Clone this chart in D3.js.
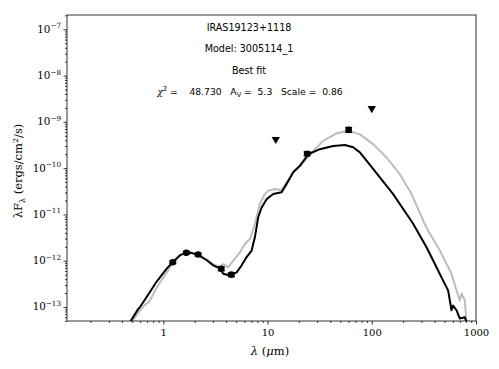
<!DOCTYPE html>
<html>
<head>
<meta charset="utf-8">
<script src="https://cdn.jsdelivr.net/npm/d3@7"></script>
<style>
  html, body { margin: 0; padding: 0; background: #fff; }
  svg { display: block; }
</style>
</head>
<body>
<svg id="chart" width="499" height="369"></svg>
<script>
// ---- data ----
// best-fit model (black): wavelength (micron), log10 lambda F_lambda
const bestWave = [0.46, 0.49, 0.576, 0.598, 0.718, 0.864, 1.078, 1.23, 1.446, 1.65, 1.84, 2.14, 2.61, 3.02, 3.50, 3.76, 4.36, 5.05, 5.65, 6.30, 7.04, 7.57, 8.14, 8.78, 9.80, 11.34, 13.65, 15.25, 17.64, 20.45, 24.6, 31.8, 42.7, 55.2, 66.3, 76.9, 89.1, 119.6, 160.4, 215.7, 249.5, 335.3, 418, 483.7, 540, 582, 603, 650, 699, 781, 811, 860];
const bestLogF = [-13.45, -13.29, -13.04, -13.00, -12.73, -12.45, -12.17, -12.03, -11.88, -11.83, -11.83, -11.87, -11.99, -12.10, -12.17, -12.28, -12.32, -12.25, -12.10, -11.92, -11.78, -11.49, -11.06, -10.85, -10.67, -10.56, -10.52, -10.34, -10.09, -9.95, -9.70, -9.59, -9.52, -9.50, -9.55, -9.66, -9.84, -10.20, -10.56, -10.99, -11.20, -11.71, -12.14, -12.43, -12.64, -13.07, -12.97, -13.07, -13.25, -13.22, -13.33, -13.55];

// comparison model (grey)
const greyWave = [0.49, 0.52, 0.60, 0.66, 0.72, 0.78, 0.84, 0.93, 1.117, 1.239, 1.446, 1.65, 1.84, 2.15, 2.61, 3.02, 3.50, 3.76, 4.20, 4.69, 5.44, 6.07, 6.78, 7.57, 8.46, 9.44, 10.15, 11.78, 13.65, 15.25, 17.64, 22.0, 27.4, 34.2, 46.0, 59.4, 76.9, 103.1, 138.7, 186, 240.8, 311, 347, 450, 582, 650, 699, 726, 781, 811, 850];
const greyLogF = [-13.40, -13.26, -13.07, -12.96, -12.90, -12.78, -12.63, -12.47, -12.20, -12.04, -11.89, -11.82, -11.82, -11.87, -11.97, -12.08, -12.13, -12.07, -12.14, -12.00, -11.82, -11.64, -11.53, -11.20, -10.77, -10.56, -10.49, -10.45, -10.47, -10.31, -10.09, -9.88, -9.63, -9.41, -9.25, -9.19, -9.27, -9.48, -9.77, -10.13, -10.56, -11.13, -11.35, -11.78, -12.28, -12.64, -12.86, -12.71, -12.86, -13.33, -13.65];

// photometry (detections)
const obsWave = [1.235, 1.662, 2.159, 3.6, 4.5, 24, 60];
const obsFlux = [9.3e-13, 1.48e-12, 1.36e-12, 6.7e-13, 5.0e-13, 2.05e-10, 6.7e-10];
const obsErrDex = [0.03, 0.03, 0.03, 0.04, 0.04, 0.04, 0.05];

// upper limits
const limWave = [12, 100];
const limFlux = [4.2e-10, 1.95e-9];

// axes ticks
const xTickVals = [1, 10, 100, 1000];
const xTickLabels = ["1", "10", "100", "1000"];
const yTickExps = [-13, -12, -11, -10, -9, -8, -7];

// annotation text
const titleLines = ["IRAS19123+1118", "Model: 3005114_1", "Best fit"];
const fitStats = { chi2: "48.730", av: "5.3", scale: "0.86" };

// ---- layout ----
const L = 67, R = 476, T = 15, B = 321;
const svg = d3.select("#chart");

const x = d3.scaleLog().domain([0.1192, 1000]).range([L, R]);
const y = d3.scaleLog().domain([Math.pow(10, -13.3025), Math.pow(10, -6.691)]).range([B, T]);

svg.append("defs").append("clipPath").attr("id", "clip")
  .append("rect").attr("x", L).attr("y", T).attr("width", R - L).attr("height", B - T);

const plot = svg.append("g").attr("clip-path", "url(#clip)");

const line = d3.line()
  .x(d => x(d[0]))
  .y(d => y(Math.pow(10, d[1])));

plot.append("path")
  .datum(greyWave.map((w, i) => [w, greyLogF[i]]))
  .attr("d", line)
  .attr("fill", "none")
  .attr("stroke", "#bdbdbd")
  .attr("stroke-width", 2)
  .attr("stroke-linejoin", "round");

plot.append("path")
  .datum(bestWave.map((w, i) => [w, bestLogF[i]]))
  .attr("d", line)
  .attr("fill", "none")
  .attr("stroke", "#000")
  .attr("stroke-width", 2)
  .attr("stroke-linejoin", "round");

// error bars + points
const obs = obsWave.map((w, i) => ({ w, f: obsFlux[i], e: obsErrDex[i] }));
const eb = plot.append("g");
obs.forEach(d => {
  const cx = x(d.w);
  const y1 = y(d.f * Math.pow(10, d.e));
  const y0 = y(d.f / Math.pow(10, d.e));
  eb.append("line").attr("x1", cx).attr("x2", cx).attr("y1", y1).attr("y2", y0)
    .attr("stroke", "#000").attr("stroke-width", 1.5);
  [y0, y1].forEach(yy => {
    eb.append("line").attr("x1", cx - 3.5).attr("x2", cx + 3.5).attr("y1", yy).attr("y2", yy)
      .attr("stroke", "#000").attr("stroke-width", 1.5);
  });
  eb.append("circle").attr("cx", cx).attr("cy", y(d.f)).attr("r", 3.3).attr("fill", "#000");
});

// upper limits (down triangles)
const tri = d3.symbol().type(d3.symbolTriangle).size(30);
limWave.forEach((w, i) => {
  plot.append("path")
    .attr("d", tri())
    .attr("transform", `translate(${x(w)},${y(limFlux[i])}) rotate(180)`)
    .attr("fill", "#000");
});

// ---- axes ----
const xMinor = [];
for (let e = -1; e <= 2; e++) for (let m = 2; m <= 9; m++) {
  const v = m * Math.pow(10, e);
  if (v >= 0.1192 && v <= 1000) xMinor.push(v);
}
const yMinor = [];
for (let e = -14; e <= -7; e++) for (let m = 2; m <= 9; m++) {
  const v = m * Math.pow(10, e);
  if (Math.log10(v) >= -13.3025 && Math.log10(v) <= -6.691) yMinor.push(v);
}

const gx = svg.append("g").attr("transform", `translate(0,${B})`);
gx.call(d3.axisBottom(x).tickValues(xMinor).tickSize(2).tickFormat(""))
  .call(g => g.select(".domain").remove());
gx.append("g").call(d3.axisBottom(x).tickValues(xTickVals).tickSize(3.5)
    .tickFormat((d, i) => xTickLabels[i]).tickPadding(4))
  .call(g => g.select(".domain").remove());
gx.selectAll("line").attr("stroke", "#000").attr("stroke-width", 0.8);
gx.selectAll("text").attr("font-family", "DejaVu Serif, serif").attr("font-size", 10).attr("fill", "#000");

const gy = svg.append("g").attr("transform", `translate(${L},0)`);
gy.call(d3.axisLeft(y).tickValues(yMinor).tickSize(2).tickFormat(""))
  .call(g => g.select(".domain").remove());
gy.append("g").call(d3.axisLeft(y).tickValues(yTickExps.map(e => Math.pow(10, e))).tickSize(3.5).tickFormat(""))
  .call(g => g.select(".domain").remove());
gy.selectAll("line").attr("stroke", "#000").attr("stroke-width", 0.8);
yTickExps.forEach(e => {
  const t = svg.append("text")
    .attr("x", L - 6).attr("y", y(Math.pow(10, e)) + 3.5)
    .attr("text-anchor", "end")
    .attr("font-family", "DejaVu Serif, serif").attr("font-size", 10.3).attr("fill", "#000");
  t.append("tspan").text("10");
  t.append("tspan").attr("dy", -4.5).attr("font-size", 7.2).text("\u2212" + Math.abs(e));
});

// frame
svg.append("rect").attr("x", L).attr("y", T).attr("width", R - L).attr("height", B - T)
  .attr("fill", "none").attr("stroke", "#000").attr("stroke-width", 0.8);

// axis labels
const xl = svg.append("text").attr("x", 270).attr("y", 355)
  .attr("text-anchor", "middle").attr("font-family", "DejaVu Serif, serif").attr("font-size", 11.5);
xl.append("tspan").attr("font-style", "italic").text("\u03bb");
xl.append("tspan").text(" (");
xl.append("tspan").attr("font-style", "italic").text("\u03bc");
xl.append("tspan").text("m)");

const yl = svg.append("text").attr("transform", `translate(22,171) rotate(-90)`)
  .attr("text-anchor", "middle").attr("font-family", "DejaVu Serif, serif").attr("font-size", 11.5);
yl.append("tspan").text("\u03bbF");
yl.append("tspan").attr("dy", 2.5).attr("font-size", 8).text("\u03bb");
yl.append("tspan").attr("dy", -2.5).text(" (ergs/cm");
yl.append("tspan").attr("dy", -4).attr("font-size", 8).text("2");
yl.append("tspan").attr("dy", 4).text("/s)");

// annotations
const cxText = 249;
titleLines.forEach((s, i) => {
  svg.append("text").attr("x", cxText).attr("y", 31 + i * 21.3)
    .attr("text-anchor", "middle").attr("font-family", "DejaVu Sans, sans-serif")
    .attr("font-size", 9.6).attr("fill", "#000").text(s);
});
const st = svg.append("text").attr("x", 250).attr("y", 95)
  .attr("text-anchor", "middle").attr("font-family", "DejaVu Sans, sans-serif")
  .attr("font-size", 9.2).attr("fill", "#000").style("white-space", "pre");
st.append("tspan").attr("font-style", "italic").attr("font-family", "DejaVu Serif, serif").text("\u03c7");
st.append("tspan").attr("dy", -3.8).attr("font-size", 6.6).text("2");
st.append("tspan").attr("dy", 3.8).text(" =    " + fitStats.chi2 + "   A");
st.append("tspan").attr("dy", 2).attr("font-size", 6.6).text("V");
st.append("tspan").attr("dy", -2).text(" =  " + fitStats.av + "   Scale =  " + fitStats.scale);
</script>
</body>
</html>
